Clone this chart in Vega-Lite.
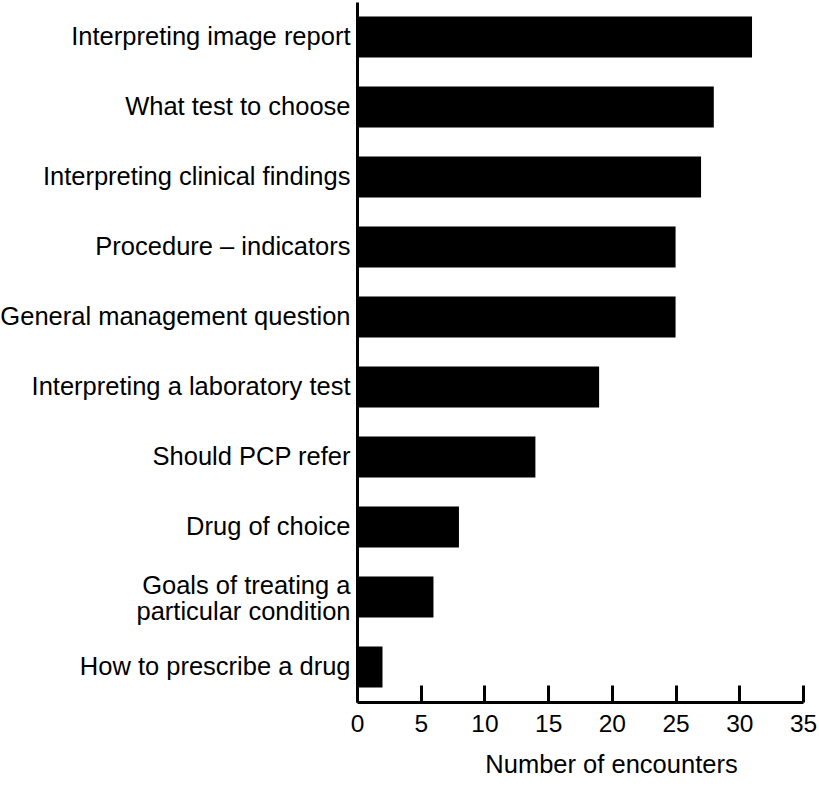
{
  "$schema": "https://vega.github.io/schema/vega-lite/v6.json",
  "autosize": "none",
  "width": 446,
  "height": 700,
  "padding": {"left": 357, "top": 2, "right": 16, "bottom": 85},
  "background": "white",
  "config": {"view": {"stroke": null}, "font": "Liberation Sans"},
  "data": {"values": [
    {"category": "Interpreting image report", "count": 31},
    {"category": "What test to choose", "count": 28},
    {"category": "Interpreting clinical findings", "count": 27},
    {"category": "Procedure – indicators", "count": 25},
    {"category": "General management question", "count": 25},
    {"category": "Interpreting a laboratory test", "count": 19},
    {"category": "Should PCP refer", "count": 14},
    {"category": "Drug of choice", "count": 8},
    {"category": "Goals of treating a|particular condition", "count": 6},
    {"category": "How to prescribe a drug", "count": 2}
  ]},
  "mark": {"type": "bar", "color": "black"},
  "encoding": {
    "y": {
      "field": "category", "type": "nominal", "sort": null,
      "scale": {"paddingInner": 0.414, "paddingOuter": 0.207},
      "axis": {
        "title": null, "ticks": false, "domainColor": "black", "domainWidth": 3,
        "labelFontSize": 25.5, "labelColor": "black", "labelPadding": 7,
        "labelLimit": 400, "labelLineHeight": 26,
        "labelOffset": {"condition": {"test": "indexof(datum.value, '|') >= 0", "value": -11}, "value": 0},
        "labelExpr": "split(datum.label, '|')"
      }
    },
    "x": {
      "field": "count", "type": "quantitative",
      "scale": {"domain": [0, 35], "nice": false},
      "axis": {
        "title": "Number of encounters", "titleFontSize": 25.5, "titleFontWeight": "normal",
        "titleColor": "black", "titlePadding": 17, "titleX": 254,
        "values": [0, 5, 10, 15, 20, 25, 30, 35], "grid": false,
        "domainColor": "black", "domainWidth": 3,
        "tickColor": "black", "tickWidth": 3, "tickSize": -17,
        "labelFontSize": 24.5, "labelColor": "black", "labelPadding": 27,
        "labelFlush": false, "labelOverlap": false
      }
    }
  }
}
